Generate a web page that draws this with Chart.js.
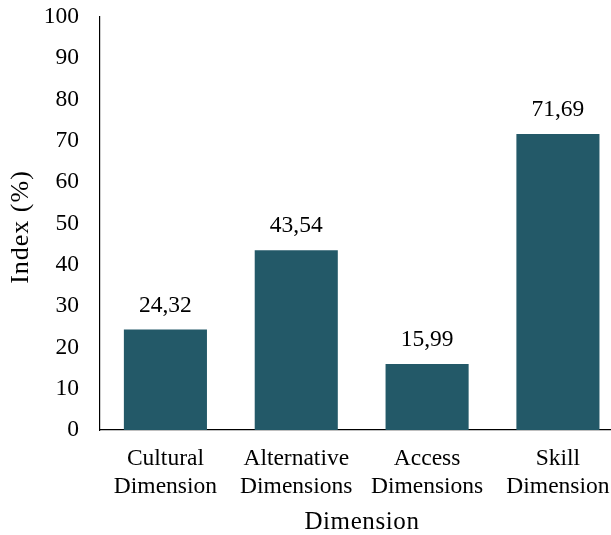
<!DOCTYPE html>
<html>
<head>
<meta charset="utf-8">
<script src="https://cdn.jsdelivr.net/npm/chart.js@4"></script>
<style>
  html, body { margin: 0; padding: 0; background: #fff; overflow: hidden; }
  #wrap { width: 624px; height: 535px; }
</style>
</head>
<body>
<div id="wrap"><canvas id="c" width="624" height="535"></canvas></div>
<script>
// Index per dimension (%)
const categories = [
  ["Cultural", "Dimension"],
  ["Alternative", "Dimensions"],
  ["Access", "Dimensions"],
  ["Skill", "Dimension"]
];
const indexValues = [24.32, 43.54, 15.99, 71.69];
const yTicks = [0, 10, 20, 30, 40, 50, 60, 70, 80, 90, 100];
const xTitle = "Dimension";
const yTitle = "Index (%)";

const FONT = "'Liberation Serif', 'Times New Roman', serif";
const BAR_COLOR = "#235968";

// Value labels above the bars (decimal comma) and the two axis titles
const annotations = {
  id: "annotations",
  afterDatasetsDraw(chart) {
    const ctx = chart.ctx;
    const meta = chart.getDatasetMeta(0);
    const area = chart.chartArea;
    ctx.save();
    ctx.fillStyle = "#000";

    ctx.font = "23.5px " + FONT;
    ctx.textAlign = "center";
    ctx.textBaseline = "alphabetic";
    meta.data.forEach((bar, i) => {
      const txt = indexValues[i].toFixed(2).replace(".", ",");
      ctx.fillText(txt, bar.x, bar.y - 18);
    });

    ctx.font = "25px " + FONT;
    ctx.letterSpacing = "0.6px";
    ctx.fillText(xTitle, (area.left + area.right) / 2 + 0.3, 529);

    ctx.font = "26px " + FONT;
    ctx.letterSpacing = "1px";
    ctx.translate(28, (area.top + area.bottom) / 2 + 4);
    ctx.rotate(-Math.PI / 2);
    ctx.fillText(yTitle, 0.5, 0);
    ctx.restore();
  }
};

new Chart(document.getElementById("c"), {
  type: "bar",
  data: {
    labels: categories,
    datasets: [{
      data: indexValues,
      backgroundColor: BAR_COLOR,
      borderWidth: 0,
      categoryPercentage: 1.0,
      barPercentage: 0.635
    }]
  },
  options: {
    responsive: false,
    animation: false,
    layout: { padding: { top: 17, right: 0, bottom: 0, left: 0 } },
    plugins: { legend: { display: false }, tooltip: { enabled: false } },
    scales: {
      x: {
        afterFit(scale) {
          scale.height = 105;
          scale.paddingTop = 0; scale.paddingBottom = 0;
        },
        grid: { display: false, drawTicks: false },
        border: { display: true, color: "#000", width: 1.2 },
        ticks: {
          color: "#000",
          font: { family: FONT, size: 23.5, lineHeight: 1.2 },
          padding: 14.5,
          maxRotation: 0,
          autoSkip: false
        }
      },
      y: {
        min: 0,
        max: 100,
        afterBuildTicks(scale) { scale.ticks = yTicks.map(v => ({ value: v })); },
        afterFit(scale) {
          scale.width = 100;
          scale.paddingTop = 0; scale.paddingBottom = 0;
        },
        grid: { display: false, drawTicks: false },
        border: { display: true, color: "#000", width: 1.2 },
        ticks: {
          color: "#000",
          font: { family: FONT, size: 23.5 },
          padding: 21
        }
      }
    }
  },
  plugins: [annotations]
});
</script>
</body>
</html>
